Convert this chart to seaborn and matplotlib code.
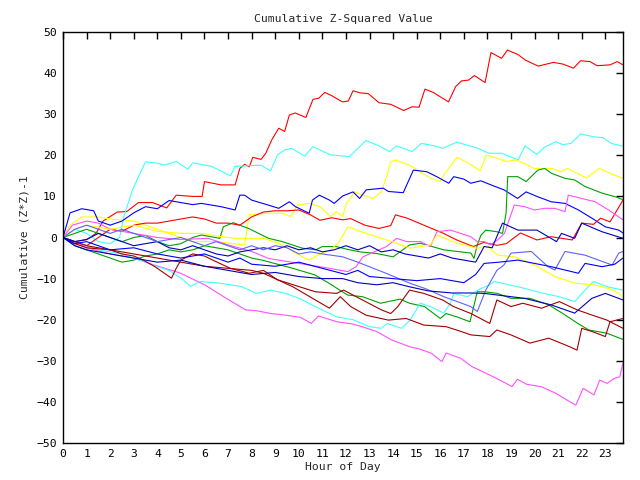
import matplotlib
matplotlib.use("Agg")
import matplotlib.pyplot as plt
import seaborn as sns
import pandas as pd

# ---- data: (hour, cumulative value) ----
red_a = [(0,0),(0.5,-1),(1,-0.5),(1.4,1),(1.7,4),(2.3,6.2),(2.7,6.3),(3.2,8.5),(3.8,8.5),(4.4,7.2),(4.8,10.3),(5.5,10),(5.9,10),(6.0,13.6),(6.7,12.8),(7.3,12.8),(7.5,16.8),(7.7,17.8),(7.9,17.2),(8.05,19.5),(8.4,19),(8.6,20.5),(8.85,23.7),(9.15,26.6),(9.4,25.8),(9.6,29.8),(9.85,30.3),(10.3,29.2),(10.6,33.6),(10.85,33.9),(11.1,35.3),(11.4,34.5),(11.85,33),(12.1,33.2),(12.3,35.7),(12.6,35.2),(12.95,35),(13.4,32.8),(13.9,32.4),(14.45,30.9),(14.8,31.8),(15.1,31.7),(15.35,36.1),(15.7,35.3),(16.35,33),(16.65,36.7),(16.9,38.1),(17.2,38.3),(17.45,39.4),(17.9,37.7),(18.15,45),(18.6,43.6),(18.85,45.6),(19.3,44.5),(19.6,43.2),(20.15,41.7),(20.8,42.6),(21.2,42.2),(21.65,41.2),(21.95,43),(22.35,42.8),(22.65,41.8),(23.2,42),(23.5,42.8),(23.75,42)]
cyan_a = [(0,0),(0.5,2),(1,1),(1.5,-1),(2,-1.5),(2.4,0),(2.6,5.5),(2.95,11.6),(3.2,14.8),(3.5,18.4),(4.0,18.1),(4.3,17.6),(4.8,18.5),(5.3,16.6),(5.5,18.2),(6.3,17.3),(6.7,16.2),(7.1,15.0),(7.3,17.3),(8.4,17.6),(8.8,16.2),(9.1,20.1),(9.4,21.3),(9.7,21.7),(10.25,19.8),(10.6,22.1),(11.35,20.1),(12.15,19.7),(12.85,23.6),(13.4,22.3),(13.85,20.9),(14.15,22.3),(14.8,20.9),(15.2,22.9),(15.75,22.3),(16.1,21.7),(16.7,23.2),(17.6,21.7),(18.05,20.5),(18.6,20.5),(19.3,18.9),(19.6,22.3),(20.1,20.2),(20.4,21.9),(20.9,23.3),(21.2,22.6),(21.55,22.9),(21.95,25.2),(22.5,24.5),(22.9,24.3),(23.25,22.9),(23.75,22.2)]
yellow_a = [(0,0),(0.3,3),(0.8,5),(1.5,5),(2,4.5),(3,4),(4,2),(5,0),(5.5,-1),(6.5,-1),(7.2,-1.5),(7.7,-1.8),(7.9,5.5),(8.6,5.9),(9.3,5.9),(9.65,5.1),(9.95,7.9),(10.45,8.3),(10.9,7.5),(11.35,5.1),(11.6,6.3),(11.86,5.1),(12.0,8),(12.36,11.1),(12.72,10.3),(13.15,9.5),(13.5,11.1),(13.72,14.8),(13.9,18.4),(14.1,18.9),(14.8,17.3),(15.25,15.6),(15.6,14.4),(16.0,13.6),(16.2,15.6),(16.7,19.5),(17.2,18.1),(17.7,16.2),(17.95,20.1),(18.4,19.3),(18.8,18.5),(19.2,18.9),(19.6,17.9),(20.0,16.8),(20.75,16.8),(21.1,16.0),(21.4,16.8),(21.8,15.6),(22.2,14.5),(22.75,16.8),(23.2,15.6),(23.75,14.4)]
blue_a = [(0,0),(0.3,6),(0.8,7),(1.3,6.5),(1.5,4),(2,3),(2.5,4),(3,6),(3.5,7.5),(4,7),(4.5,9),(5,8.5),(5.5,8),(5.87,8.3),(6.7,7.5),(7.3,6.7),(7.5,10.3),(7.7,10.3),(8.0,9.1),(8.7,7.9),(9.15,7.1),(9.6,8.7),(9.86,7.5),(10.44,5.9),(10.58,9.1),(10.87,10.3),(11.3,9.1),(11.5,8.3),(11.86,10.1),(12.3,11.1),(12.58,9.5),(12.86,11.6),(13.58,12.0),(13.8,11.2),(14.43,10.9),(14.86,16.4),(15.43,16.0),(15.85,14.8),(16.36,13.2),(16.57,14.8),(17.0,14.2),(17.29,13.2),(17.72,13.8),(18.15,12.8),(18.7,11.6),(19.28,9.5),(19.64,11.1),(20.14,9.9),(20.7,8.7),(21.29,8.3),(21.86,6.7),(22.43,4.7),(23.0,2.6),(23.57,1.8),(23.75,1.1)]
green_a = [(0,0),(0.5,1),(1,2),(1.5,1),(2,0),(2.5,-1),(3,0),(3.5,0.5),(4,-1),(4.5,-2),(5,-1.5),(5.5,0),(5.87,0.6),(6.65,-0.2),(6.8,2.6),(7.22,3.6),(7.87,2.2),(8.72,-0.2),(9.3,-1.0),(10.15,-2.6),(10.72,-3.0),(11.0,-2.2),(11.58,-2.2),(12.08,-2.9),(12.6,-3.5),(13.3,-3.9),(14.0,-4.7),(14.7,-1.8),(15.15,-1.4),(16.15,-3.0),(17.3,-3.8),(17.43,-5.1),(17.57,-1.8),(17.72,0.5),(17.93,1.8),(18.4,1.4),(18.64,1.0),(18.79,5.9),(18.86,14.8),(19.29,14.8),(19.64,13.6),(20.14,16.4),(20.43,16.8),(20.72,15.6),(21.29,14.4),(21.7,14.0),(22.14,12.4),(22.86,10.8),(23.43,9.9),(23.75,9.2)]
red_b = [(0,0),(0.5,-1),(1,-2),(1.5,0),(2,2),(2.5,1.5),(3,3),(3.5,3.5),(4,3.5),(4.5,4),(5,4.5),(5.5,5),(6,4.5),(6.5,3.5),(7,3.5),(7.5,3),(8,5),(8.5,6.2),(9,6.5),(9.5,6.5),(10,6.7),(10.5,5.5),(10.9,4.2),(11.4,4.8),(11.86,4.3),(12.2,4.6),(12.8,3),(13.4,2.2),(13.9,2.9),(14.1,5.5),(14.6,4.7),(15.3,3),(16.1,1.1),(16.7,-0.6),(17.4,-2.2),(17.85,-1.2),(18.4,-1.9),(18.8,-1.5),(19.4,1.1),(20.1,-0.6),(20.7,0.2),(21.6,-0.6),(22.0,3.5),(22.5,3.2),(22.8,4.7),(23.2,3.8),(23.5,6.7),(23.75,9.1)]
magenta_a = [(0,0),(0.4,3),(1,4),(1.5,3.5),(2,2),(2.5,1.5),(3,1),(4,0),(5,-0.5),(6.15,-0.2),(7.0,-1.8),(8.0,-3.4),(8.72,-5.1),(9.58,-5.9),(10.44,-6.7),(11.3,-7.5),(12.08,-8.3),(12.43,-7.1),(12.72,-4.7),(13.2,-3.5),(13.72,-2.2),(14.15,-0.2),(14.57,-1.0),(15.15,-1.0),(15.58,-2.2),(15.86,1.4),(16.43,1.8),(17.29,0.2),(17.57,-1.0),(17.86,-1.0),(18.14,-1.8),(18.43,-0.6),(18.72,1.0),(19.14,7.9),(19.57,7.5),(20.0,6.7),(20.43,7.1),(20.86,7.1),(21.29,6.3),(21.43,10.3),(22.0,9.5),(22.57,8.7),(23.14,6.7),(23.75,4.3)]
magenta_b = [(0,0),(0.5,-1),(1,-2.5),(2,-4),(3,-5),(3.87,-6.7),(4.95,-8.6),(6.04,-11.6),(6.81,-14.4),(7.74,-17.6),(8.2,-17.8),(8.82,-18.5),(9.44,-18.9),(10.06,-19.4),(10.53,-20.9),(10.84,-19.1),(11.61,-20.5),(12.23,-21.0),(12.69,-21.7),(13.31,-22.9),(13.93,-24.9),(14.71,-26.6),(15.17,-27.2),(15.63,-28.2),(16.07,-30.2),(16.25,-28.1),(16.87,-29.4),(17.34,-31.4),(18.11,-33.5),(18.73,-35.3),(19.04,-36.3),(19.27,-34.5),(19.66,-35.7),(20.28,-36.3),(20.9,-37.9),(21.36,-39.5),(21.75,-40.8),(22.06,-36.7),(22.52,-38.3),(22.76,-34.7),(23.07,-35.5),(23.37,-34.3),(23.61,-33.9),(23.75,-30.6)]
green_b = [(0,0),(0.5,-2),(1,-3),(1.5,-4),(2,-5),(2.5,-6),(3,-5.5),(3.5,-4.5),(4,-4),(4.5,-3),(5,-3.5),(5.5,-3),(6,-2),(6.5,-2.5),(7,-3),(7.5,-4),(8,-5),(8.44,-5.5),(9.75,-7.5),(10.68,-9.1),(11.3,-11.2),(12.07,-14.0),(12.7,-14.4),(13.47,-16.0),(13.78,-15.6),(14.3,-15.0),(14.7,-16.0),(15.33,-16.8),(16.0,-19.7),(16.25,-18.5),(16.7,-19.3),(17.26,-20.5),(17.57,-13.2),(17.88,-13.2),(18.42,-13.6),(19.0,-14.8),(19.8,-14.8),(20.6,-16.4),(21.2,-18.5),(21.83,-20.9),(22.3,-22.5),(23.07,-23.3),(23.75,-24.8)]
cyan_b = [(0,0),(0.5,-1),(1,-2),(1.5,-3),(2,-3.5),(2.5,-4),(3,-5),(3.5,-6),(4.0,-7.1),(4.5,-8),(5.1,-10.3),(5.4,-11.9),(5.8,-10.7),(6.5,-11),(7.1,-11.5),(7.6,-12),(8.2,-13.6),(8.8,-12.8),(9.44,-13.6),(10.1,-15),(10.7,-16.8),(11.6,-19.3),(12.3,-20),(13.0,-21.7),(13.5,-22.1),(13.75,-20.9),(14.36,-22.1),(14.72,-20.1),(15.15,-16.0),(15.58,-16.8),(16.15,-18.4),(16.43,-16.0),(16.57,-13.6),(17.15,-14.4),(17.72,-12.4),(18.07,-11.6),(18.29,-10.7),(19.3,-12),(20.4,-13.6),(21.1,-14.5),(21.7,-15.6),(22.14,-12.8),(22.5,-10.7),(23.1,-12),(23.75,-12.8)]
yellow_b = [(0,0),(0.5,2),(1,3),(1.5,2.5),(2,2),(3,3),(4,1.5),(5,1),(5.87,1.0),(6.72,0.2),(7.3,-0.2),(8.5,-0.2),(9.15,-1.4),(10.15,-4.7),(10.44,-5.5),(10.8,-4.3),(11.36,-3.0),(11.72,-1.0),(12.08,2.6),(12.6,1.5),(13.3,0.2),(14.15,-1.4),(14.72,-2.6),(15.58,-1.8),(15.86,0.6),(16.7,-1.4),(17.57,-2.6),(18.0,-2.0),(18.43,-4.3),(19.14,-4.7),(20.0,-6.7),(20.86,-9.5),(21.71,-11.1),(22.57,-11.6),(23.2,-12.5),(23.57,-13.6),(23.75,-14.5)]
dkred_a = [(0,0),(0.5,-1),(1,-2),(1.5,-2.5),(2,-3),(2.5,-4),(3,-4.5),(3.4,-5.5),(3.9,-7.1),(4.6,-9.9),(4.8,-7.5),(5.0,-5.5),(5.5,-4),(6,-4.5),(6.35,-5.5),(7.1,-7.5),(7.9,-8.7),(8.5,-8),(9.1,-10.3),(10.7,-13.2),(11.6,-13.6),(11.9,-12.8),(12.7,-15.2),(13.5,-17.6),(13.9,-18.5),(14.2,-16.8),(14.7,-12.8),(15.3,-13.6),(16.1,-15.2),(16.56,-16.8),(17.3,-18.5),(18.1,-20.9),(18.4,-15.2),(19.0,-16.8),(19.5,-16.0),(20.3,-17.2),(21.05,-15.6),(21.8,-17.6),(22.45,-18.9),(23.07,-20.1),(23.75,-22.1)]
dkred_b = [(0,0),(0.5,-1.5),(1,-2.5),(2,-3),(3,-4),(4,-5),(5,-6),(6,-7),(7,-7.5),(8,-8),(8.5,-8.7),(9.75,-12),(11.3,-17.2),(11.76,-14.4),(12.2,-16.8),(12.85,-18.9),(13.8,-20.1),(14.55,-19.7),(15.3,-21.3),(16.25,-21.7),(16.9,-22.9),(17.3,-23.7),(18.1,-24.1),(18.4,-22.5),(19.0,-23.7),(19.8,-25.7),(20.6,-24.5),(21.5,-26.6),(21.8,-27.4),(22.0,-22.1),(22.45,-22.9),(23.0,-24.1),(23.2,-20.5),(23.75,-19.7)]
blue_b = [(0,0),(0.5,-1),(1,-0.5),(1.5,1),(2,0),(2.5,-1),(3,-2),(3.5,-1.5),(4,-1),(4.5,-2.5),(5,-3),(5.5,-2),(6,-3),(6.5,-4),(7,-4.5),(7.5,-3.5),(8,-3),(8.5,-2.5),(9,-3),(9.5,-2),(10,-3),(10.5,-2.5),(11,-3.5),(11.5,-3),(12,-2),(12.5,-3),(13,-2),(13.5,-3.5),(14,-3),(14.5,-4),(15,-4.5),(15.5,-5),(16,-4),(16.5,-5),(17,-5.5),(17.5,-6),(17.86,-2.2),(18.2,-2.5),(18.64,3.5),(19.29,1.8),(20.1,1.8),(20.93,-1.0),(21.14,1.0),(21.7,-0.2),(22.0,3.5),(22.86,1.4),(23.75,-0.2)]
ltblue_a = [(0,0),(0.5,2),(1,3),(1.5,2),(2,1),(2.5,2),(3,1),(3.5,0),(4,-1),(5,0),(5.5,-1),(6,-2),(6.5,-1),(7,-2),(7.5,-3),(8,-2),(8.5,-3),(9,-2),(9.5,-2.5),(10,-4),(10.5,-3.5),(11,-4),(11.86,-4.7),(12.5,-6),(13.7,-8.7),(14.7,-11.1),(15.4,-12.5),(16.15,-14.4),(17.29,-16.8),(17.57,-18.0),(17.93,-12.8),(18.4,-8.0),(18.7,-6.7),(19.0,-3.8),(19.86,-3.4),(20.57,-7.1),(20.86,-7.9),(21.29,-3.4),(22.14,-4.3),(23.29,-6.7),(23.57,-3.8),(23.75,-3.4)]
blue_c = [(0,0),(0.5,-1.5),(1,-1),(1.5,-2),(2,-3),(3,-2.5),(4,-4),(5,-5),(6,-4),(7,-6),(7.5,-5),(8,-6.5),(9,-7),(10,-6),(11,-7.5),(12,-9),(12.5,-8),(13,-9.5),(14,-10),(15,-10.5),(16,-10),(17,-11),(17.5,-9),(17.86,-6.3),(18.5,-6),(19.29,-5.5),(20.7,-7.1),(21.86,-8.7),(22.14,-6.3),(22.86,-7.1),(23.4,-6.5),(23.75,-5.0)]
blue_d = [(0,0),(0.5,-2),(1,-3),(2,-4),(3,-5),(4,-6),(5,-5.5),(6,-7),(7,-8),(8,-9),(9,-8.5),(10,-9.5),(11,-10),(11.86,-10),(12.5,-11),(13.3,-11.5),(14,-11),(14.7,-12),(15.5,-13),(16.5,-13.5),(17.3,-13.5),(17.86,-13.6),(19.57,-14.8),(20.7,-16.4),(21.7,-18.4),(22.43,-14.8),(23.0,-13.6),(23.75,-15.2)]

series = [
    (red_a, "#ff0000"), (cyan_a, "#40ffff"), (yellow_a, "#ffff00"),
    (blue_a, "#0000ff"), (green_a, "#00a000"), (red_b, "#ff0000"),
    (magenta_a, "#ff50ff"), (magenta_b, "#ff50ff"), (green_b, "#00a000"),
    (cyan_b, "#40ffff"), (yellow_b, "#ffff00"), (dkred_a, "#a00000"),
    (dkred_b, "#a00000"), (blue_b, "#0000c0"), (ltblue_a, "#6060ff"),
    (blue_c, "#0000ff"), (blue_d, "#0000c0"),
]

sns.set_style("white")
plt.rcParams['font.family'] = ['DejaVu Sans Mono']

fig = plt.figure(figsize=(6.4, 4.8), dpi=100)
ax = fig.add_axes([63/640, 1-443/480, 560/640, 411/480])

for pts, col in series:
    df = pd.DataFrame(pts, columns=["hour", "value"])
    sns.lineplot(data=df, x="hour", y="value", color=col, linewidth=0.8,
                 estimator=None, sort=False, ax=ax)

ax.set_xlim(0, 23.75)
ax.set_ylim(-50, 50)
ax.set_xticks(range(0, 24))
ax.set_yticks(range(-50, 51, 10))
ax.tick_params(direction="in", length=5, width=1, top=True, right=True,
               labelsize=8.2, colors="black", pad=4.5)
for s in ax.spines.values():
    s.set_color("black")
    s.set_linewidth(1)
ax.set_title("Cumulative Z-Squared Value", fontsize=8.2, pad=7)
ax.set_xlabel("Hour of Day", fontsize=8.2, labelpad=2)
ax.set_ylabel("Cumulative (Z*Z)-1", fontsize=8.2, labelpad=5)
ax.grid(False)

fig.savefig("out.png", dpi=100)
